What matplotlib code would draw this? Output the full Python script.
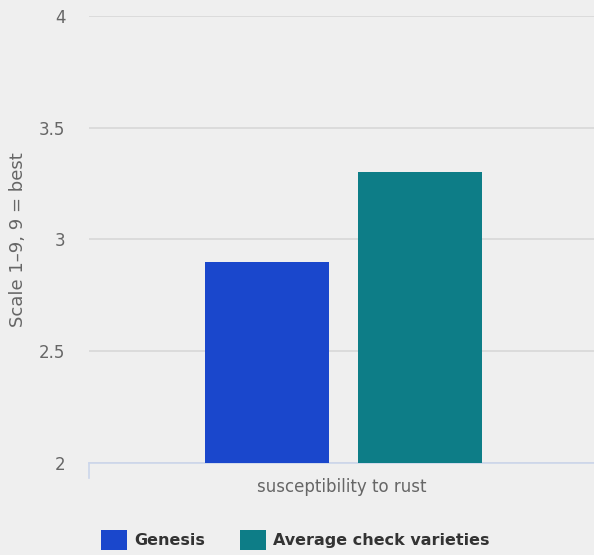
import matplotlib
matplotlib.use("Agg")
import matplotlib.pyplot as plt

# data
series = ['Genesis', 'Average check varieties']
values = [2.9, 3.3]
colors = ['#1a47cc', '#0d7d87']
category = 'susceptibility to rust'
yticks = [2, 2.5, 3, 3.5, 4]
ytick_labels = ['2', '2.5', '3', '3.5', '4']

plt.rcParams['font.family'] = ['DejaVu Sans']

fig = plt.figure(figsize=(5.94, 5.55), dpi=100, facecolor='#efefef')
ax = fig.add_axes([0.1498, 0.1658, 0.8502, 0.8054])
ax.set_facecolor('#efefef')

width = 0.245
offsets = [-0.148, 0.155]
for i, name in enumerate(series):
    ax.bar(offsets[i], values[i] - 2, bottom=2, width=width, color=colors[i], label=name, zorder=3)

ax.set_xlim(-0.5, 0.5)
ax.set_ylim(2, 4)
ax.set_yticks(yticks)
ax.set_yticklabels(ytick_labels)
ax.grid(axis='y', color='#d8d8d8', linewidth=1.2, zorder=0)
ax.set_xticks([0])
ax.set_xticklabels([category], color='#666666', fontsize=12)
ax.tick_params(axis='x', length=0, pad=11)
ax.tick_params(axis='y', length=0, pad=17, labelcolor='#666666', labelsize=12)

for s in ['top', 'right', 'left']:
    ax.spines[s].set_visible(False)
ax.spines['bottom'].set_color('#ccd6eb')
ax.spines['bottom'].set_linewidth(1.2)
ax.plot([-0.5, -0.5], [0, -0.033], transform=ax.get_xaxis_transform(),
        color='#ccd6eb', linewidth=1.2, clip_on=False)

ax.set_ylabel('Scale 1\u20139, 9 = best', color='#666666', fontsize=13)
ax.yaxis.set_label_coords(-0.123, 0.5)

leg = fig.legend(loc='center', bbox_to_anchor=(0.497, 0.027), ncol=2, frameon=False,
                 handlelength=1.6, handleheight=1.55, columnspacing=2.2, handletextpad=0.45,
                 prop={'size': 11.5})
for t in leg.get_texts():
    t.set_color('#333333')
    t.set_fontweight('bold')

fig.savefig('out.png', dpi=100, facecolor=fig.get_facecolor())
